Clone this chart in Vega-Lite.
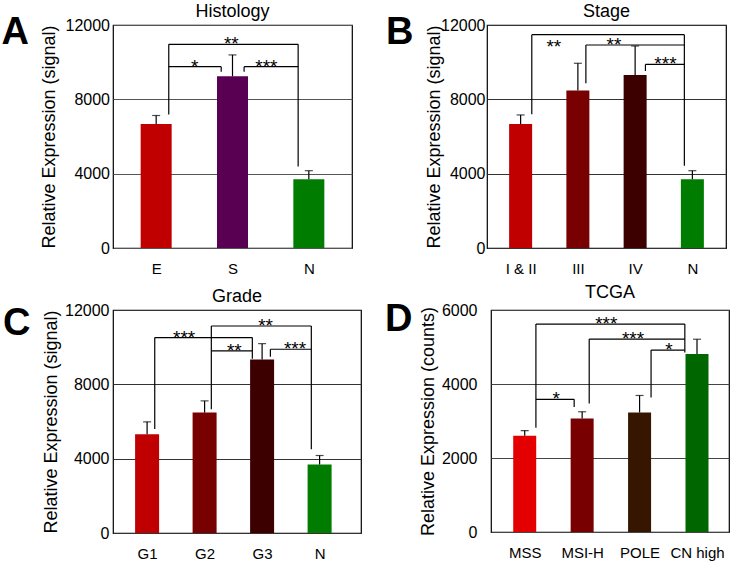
{
  "$schema": "https://vega.github.io/schema/vega-lite/v6.json",
  "padding": {"left": 1, "top": 2, "right": 0, "bottom": 0},
  "background": "white",
  "resolve": {"scale": {"color": "independent"}},
  "config": {
    "font": "Liberation Sans",
    "view": {"stroke": "black", "strokeWidth": 1.2},
    "axis": {"labelFontSize": 16, "titleFontSize": 18, "titleFontWeight": "normal", "labelColor": "black", "titleColor": "black", "labelFont": "Liberation Sans", "titleFont": "Liberation Sans"},
    "axisX": {"labelFontSize": 15},
    "scale": {"zero": false, "nice": false},
    "title": {"fontSize": 18, "fontWeight": "normal", "font": "Liberation Sans", "color": "black"}
  },
  "datasets": {
    "A_bars": [
      {"pos": 1, "cat": "E", "value": 6670, "err": 7130},
      {"pos": 2, "cat": "S", "value": 9240, "err": 10390},
      {"pos": 3, "cat": "N", "value": 3700, "err": 4160}
    ],
    "A_br": [
      {"x": 1.165, "y": 7190, "x2": 1.165, "y2": 10960},
      {"x": 1.165, "y": 10960, "x2": 2.86, "y2": 10960},
      {"x": 2.86, "y": 10960, "x2": 2.86, "y2": 4380},
      {"x": 1.165, "y": 9760, "x2": 1.852, "y2": 9760},
      {"x": 1.852, "y": 9760, "x2": 1.852, "y2": 9490},
      {"x": 2.152, "y": 9490, "x2": 2.152, "y2": 9760},
      {"x": 2.152, "y": 9760, "x2": 2.86, "y2": 9760}
    ],
    "A_lab": [
      {"x": 1.985, "y": 10960, "label": "**"},
      {"x": 1.506, "y": 9760, "label": "*"},
      {"x": 2.444, "y": 9760, "label": "***"}
    ],
    "B_bars": [
      {"pos": 1, "cat": "I & II", "value": 6670, "err": 7160},
      {"pos": 2, "cat": "III", "value": 8480, "err": 9940},
      {"pos": 3, "cat": "IV", "value": 9310, "err": 10870},
      {"pos": 4, "cat": "N", "value": 3700, "err": 4160}
    ],
    "B_br": [
      {"x": 1.195, "y": 7200, "x2": 1.195, "y2": 11480},
      {"x": 1.195, "y": 11480, "x2": 3.86, "y2": 11480},
      {"x": 3.86, "y": 11480, "x2": 3.86, "y2": 4430},
      {"x": 2.14, "y": 8860, "x2": 2.14, "y2": 10924},
      {"x": 2.14, "y": 10924, "x2": 3.86, "y2": 10924},
      {"x": 3.18, "y": 9525, "x2": 3.18, "y2": 9883},
      {"x": 3.18, "y": 9883, "x2": 3.86, "y2": 9883}
    ],
    "B_lab": [
      {"x": 1.58, "y": 10834, "label": "**"},
      {"x": 2.63, "y": 10924, "label": "**"},
      {"x": 3.53, "y": 9883, "label": "***"}
    ],
    "C_bars": [
      {"pos": 1, "cat": "G1", "value": 5320, "err": 5980},
      {"pos": 2, "cat": "G2", "value": 6480, "err": 7110},
      {"pos": 3, "cat": "G3", "value": 9330, "err": 10190},
      {"pos": 4, "cat": "N", "value": 3690, "err": 4170}
    ],
    "C_br": [
      {"x": 1.133, "y": 5590, "x2": 1.133, "y2": 10514},
      {"x": 1.133, "y": 10514, "x2": 2.83, "y2": 10514},
      {"x": 2.83, "y": 10514, "x2": 2.83, "y2": 9370},
      {"x": 2.117, "y": 6660, "x2": 2.117, "y2": 11140},
      {"x": 2.117, "y": 9797, "x2": 2.83, "y2": 9797},
      {"x": 2.117, "y": 11140, "x2": 3.856, "y2": 11140},
      {"x": 3.856, "y": 11140, "x2": 3.856, "y2": 4513},
      {"x": 3.144, "y": 9490, "x2": 3.144, "y2": 9887},
      {"x": 3.144, "y": 9887, "x2": 3.856, "y2": 9887}
    ],
    "C_lab": [
      {"x": 1.644, "y": 10514, "label": "***"},
      {"x": 2.517, "y": 9797, "label": "**"},
      {"x": 3.06, "y": 11140, "label": "**"},
      {"x": 3.572, "y": 9887, "label": "***"}
    ],
    "D_bars": [
      {"pos": 1, "cat": "MSS", "value": 2600, "err": 2740},
      {"pos": 2, "cat": "MSI-H", "value": 3070, "err": 3250},
      {"pos": 3, "cat": "POLE", "value": 3230, "err": 3690},
      {"pos": 4, "cat": "CN high", "value": 4810, "err": 5210}
    ],
    "D_br": [
      {"x": 1.195, "y": 2820, "x2": 1.195, "y2": 5620},
      {"x": 1.195, "y": 5620, "x2": 3.788, "y2": 5620},
      {"x": 3.788, "y": 5620, "x2": 3.788, "y2": 4852},
      {"x": 2.123, "y": 3470, "x2": 2.123, "y2": 5214},
      {"x": 2.123, "y": 5214, "x2": 3.788, "y2": 5214},
      {"x": 3.2, "y": 3633, "x2": 3.2, "y2": 4916},
      {"x": 3.2, "y": 4916, "x2": 3.788, "y2": 4916},
      {"x": 1.195, "y": 3587, "x2": 1.861, "y2": 3587},
      {"x": 1.861, "y": 3587, "x2": 1.861, "y2": 3380}
    ],
    "D_lab": [
      {"x": 2.42, "y": 5620, "label": "***"},
      {"x": 2.886, "y": 5214, "label": "***"},
      {"x": 3.51, "y": 4916, "label": "*"},
      {"x": 1.547, "y": 3587, "label": "*"}
    ]
  },
  "vconcat": [
    {
      "resolve": {"scale": {"color": "independent"}},
      "hconcat": [
        {
          "title": {"text": "A", "orient": "left", "anchor": "end", "angle": 0, "align": "right", "baseline": "top", "fontSize": 38, "fontWeight": "bold", "offset": -17, "dy": 12},
          "vconcat": [
            {
              "width": 239, "height": 223,
              "title": {"text": "Histology", "offset": -4},
              "layer": [
                {
                  "data": {"name": "A_bars"},
                  "mark": {"type": "bar", "size": 31, "orient": "vertical"},
                  "encoding": {
                    "x": {"field": "pos", "type": "quantitative", "scale": {"domain": [0.5, 3.5]}, "axis": {"values": [1, 2, 3], "labelExpr": "['', 'E', 'S', 'N'][datum.value]", "ticks": false, "domain": false, "grid": false, "labelPadding": 13, "labelFlush": false, "labelOverlap": false, "title": null}},
                    "y": {"field": "value", "type": "quantitative", "scale": {"domain": [0, 12000]}, "axis": {"values": [0, 4000, 8000, 12000], "format": "d", "title": "Relative Expression (signal)", "ticks": false, "domain": false, "labelPadding": 3.5, "titlePadding": 7, "grid": true, "gridColor": "#555", "gridWidth": 1}},
                    "color": {"field": "cat", "type": "nominal", "scale": {"domain": ["E", "S", "N"], "range": ["#c00000", "#5a0052", "#007d00"]}, "legend": null}
                  }
                },
                {
                  "data": {"name": "A_bars"},
                  "mark": {"type": "rule", "color": "black", "strokeWidth": 1.2},
                  "encoding": {
                    "x": {"field": "pos", "type": "quantitative", "scale": {"domain": [0.5, 3.5]}},
                    "y": {"field": "value", "type": "quantitative", "scale": {"domain": [0, 12000]}},
                    "y2": {"field": "err"}
                  }
                },
                {
                  "data": {"name": "A_bars"},
                  "mark": {"type": "tick", "orient": "horizontal", "size": 8, "thickness": 1.2, "color": "black"},
                  "encoding": {
                    "x": {"field": "pos", "type": "quantitative", "scale": {"domain": [0.5, 3.5]}},
                    "y": {"field": "err", "type": "quantitative", "scale": {"domain": [0, 12000]}}
                  }
                },
                {
                  "data": {"name": "A_br"},
                  "mark": {"type": "rule", "color": "black", "strokeWidth": 1.2},
                  "encoding": {
                    "x": {"field": "x", "type": "quantitative", "scale": {"domain": [0.5, 3.5]}},
                    "x2": {"field": "x2"},
                    "y": {"field": "y", "type": "quantitative", "scale": {"domain": [0, 12000]}},
                    "y2": {"field": "y2"}
                  }
                },
                {
                  "data": {"name": "A_lab"},
                  "mark": {"type": "text", "fontSize": 19, "baseline": "alphabetic", "dy": 6, "color": "black"},
                  "encoding": {
                    "x": {"field": "x", "type": "quantitative", "scale": {"domain": [0.5, 3.5]}},
                    "y": {"field": "y", "type": "quantitative", "scale": {"domain": [0, 12000]}},
                    "text": {"field": "label"}
                  }
                }
              ]
            }
          ]
        },
        {
          "title": {"text": "B", "orient": "left", "anchor": "end", "angle": 0, "align": "right", "baseline": "top", "fontSize": 38, "fontWeight": "bold", "offset": -16, "dy": 12},
          "vconcat": [
            {
              "width": 239, "height": 223,
              "title": {"text": "Stage", "offset": -4},
              "layer": [
                {
                  "data": {"name": "B_bars"},
                  "mark": {"type": "bar", "size": 23, "orient": "vertical"},
                  "encoding": {
                    "x": {"field": "pos", "type": "quantitative", "scale": {"domain": [0.5, 4.5]}, "axis": {"values": [1, 2, 3, 4], "labelExpr": "['', 'I & II', 'III', 'IV', 'N'][datum.value]", "ticks": false, "domain": false, "grid": false, "labelPadding": 13, "labelFlush": false, "labelOverlap": false, "title": null}},
                    "y": {"field": "value", "type": "quantitative", "scale": {"domain": [0, 12000]}, "axis": {"values": [0, 4000, 8000, 12000], "format": "d", "title": "Relative Expression (signal)", "ticks": false, "domain": false, "labelPadding": 2, "titlePadding": -3, "grid": true, "gridColor": "#333", "gridWidth": 1}},
                    "color": {"field": "cat", "type": "nominal", "scale": {"domain": ["I & II", "III", "IV", "N"], "range": ["#c00000", "#780000", "#3c0000", "#007d00"]}, "legend": null}
                  }
                },
                {
                  "data": {"name": "B_bars"},
                  "mark": {"type": "rule", "color": "black", "strokeWidth": 1.2},
                  "encoding": {
                    "x": {"field": "pos", "type": "quantitative", "scale": {"domain": [0.5, 4.5]}},
                    "y": {"field": "value", "type": "quantitative", "scale": {"domain": [0, 12000]}},
                    "y2": {"field": "err"}
                  }
                },
                {
                  "data": {"name": "B_bars"},
                  "mark": {"type": "tick", "orient": "horizontal", "size": 8, "thickness": 1.2, "color": "black"},
                  "encoding": {
                    "x": {"field": "pos", "type": "quantitative", "scale": {"domain": [0.5, 4.5]}},
                    "y": {"field": "err", "type": "quantitative", "scale": {"domain": [0, 12000]}}
                  }
                },
                {
                  "data": {"name": "B_br"},
                  "mark": {"type": "rule", "color": "black", "strokeWidth": 1.2},
                  "encoding": {
                    "x": {"field": "x", "type": "quantitative", "scale": {"domain": [0.5, 4.5]}},
                    "x2": {"field": "x2"},
                    "y": {"field": "y", "type": "quantitative", "scale": {"domain": [0, 12000]}},
                    "y2": {"field": "y2"}
                  }
                },
                {
                  "data": {"name": "B_lab"},
                  "mark": {"type": "text", "fontSize": 19, "baseline": "alphabetic", "dy": 6, "color": "black"},
                  "encoding": {
                    "x": {"field": "x", "type": "quantitative", "scale": {"domain": [0.5, 4.5]}},
                    "y": {"field": "y", "type": "quantitative", "scale": {"domain": [0, 12000]}},
                    "text": {"field": "label"}
                  }
                }
              ]
            }
          ]
        }
      ],
      "spacing": 33
    },
    {
      "resolve": {"scale": {"color": "independent"}},
      "hconcat": [
        {
          "title": {"text": "C", "orient": "left", "anchor": "end", "angle": 0, "align": "right", "baseline": "top", "fontSize": 38, "fontWeight": "bold", "offset": -16, "dy": 18},
          "vconcat": [
            {
              "width": 248, "height": 223,
              "title": {"text": "Grade", "offset": -4},
              "layer": [
                {
                  "data": {"name": "C_bars"},
                  "mark": {"type": "bar", "size": 24, "orient": "vertical"},
                  "encoding": {
                    "x": {"field": "pos", "type": "quantitative", "scale": {"domain": [0.494, 4.633]}, "axis": {"values": [1, 2, 3, 4], "labelExpr": "['', 'G1', 'G2', 'G3', 'N'][datum.value]", "ticks": false, "domain": false, "grid": false, "labelPadding": 13, "labelFlush": false, "labelOverlap": false, "title": null}},
                    "y": {"field": "value", "type": "quantitative", "scale": {"domain": [0, 12000]}, "axis": {"values": [0, 4000, 8000, 12000], "format": "d", "title": "Relative Expression (signal)", "ticks": false, "domain": false, "labelPadding": 4, "titlePadding": 4, "grid": true, "gridColor": "#333", "gridWidth": 1}},
                    "color": {"field": "cat", "type": "nominal", "scale": {"domain": ["G1", "G2", "G3", "N"], "range": ["#c00000", "#780000", "#3c0000", "#007d00"]}, "legend": null}
                  }
                },
                {
                  "data": {"name": "C_bars"},
                  "mark": {"type": "rule", "color": "black", "strokeWidth": 1.2},
                  "encoding": {
                    "x": {"field": "pos", "type": "quantitative", "scale": {"domain": [0.494, 4.633]}},
                    "y": {"field": "value", "type": "quantitative", "scale": {"domain": [0, 12000]}},
                    "y2": {"field": "err"}
                  }
                },
                {
                  "data": {"name": "C_bars"},
                  "mark": {"type": "tick", "orient": "horizontal", "size": 8, "thickness": 1.2, "color": "black"},
                  "encoding": {
                    "x": {"field": "pos", "type": "quantitative", "scale": {"domain": [0.494, 4.633]}},
                    "y": {"field": "err", "type": "quantitative", "scale": {"domain": [0, 12000]}}
                  }
                },
                {
                  "data": {"name": "C_br"},
                  "mark": {"type": "rule", "color": "black", "strokeWidth": 1.2},
                  "encoding": {
                    "x": {"field": "x", "type": "quantitative", "scale": {"domain": [0.494, 4.633]}},
                    "x2": {"field": "x2"},
                    "y": {"field": "y", "type": "quantitative", "scale": {"domain": [0, 12000]}},
                    "y2": {"field": "y2"}
                  }
                },
                {
                  "data": {"name": "C_lab"},
                  "mark": {"type": "text", "fontSize": 19, "baseline": "alphabetic", "dy": 6, "color": "black"},
                  "encoding": {
                    "x": {"field": "x", "type": "quantitative", "scale": {"domain": [0.494, 4.633]}},
                    "y": {"field": "y", "type": "quantitative", "scale": {"domain": [0, 12000]}},
                    "text": {"field": "label"}
                  }
                }
              ]
            }
          ]
        },
        {
          "title": {"text": "D", "orient": "left", "anchor": "end", "angle": 0, "align": "right", "baseline": "top", "fontSize": 38, "fontWeight": "bold", "offset": -21, "dy": 18},
          "vconcat": [
            {
              "width": 238, "height": 222,
              "title": {"text": "TCGA", "offset": 0},
              "layer": [
                {
                  "data": {"name": "D_bars"},
                  "mark": {"type": "bar", "size": 23, "orient": "vertical"},
                  "encoding": {
                    "x": {"field": "pos", "type": "quantitative", "scale": {"domain": [0.5, 4.47]}, "axis": {"values": [1, 2, 3, 4], "labelExpr": "['', 'MSS', 'MSI-H', 'POLE', 'CN high'][datum.value]", "ticks": false, "domain": false, "grid": false, "labelPadding": 13, "labelFlush": false, "labelOverlap": false, "title": null}},
                    "y": {"field": "value", "type": "quantitative", "scale": {"domain": [0, 6000]}, "axis": {"values": [0, 2000, 4000, 6000], "format": "d", "title": "Relative Expression (counts)", "ticks": false, "domain": false, "labelPadding": 14, "titlePadding": 4, "grid": true, "gridColor": "#444", "gridWidth": 1}},
                    "color": {"field": "cat", "type": "nominal", "scale": {"domain": ["MSS", "MSI-H", "POLE", "CN high"], "range": ["#e40000", "#780000", "#361600", "#006600"]}, "legend": null}
                  }
                },
                {
                  "data": {"name": "D_bars"},
                  "mark": {"type": "rule", "color": "black", "strokeWidth": 1.2},
                  "encoding": {
                    "x": {"field": "pos", "type": "quantitative", "scale": {"domain": [0.5, 4.47]}},
                    "y": {"field": "value", "type": "quantitative", "scale": {"domain": [0, 6000]}},
                    "y2": {"field": "err"}
                  }
                },
                {
                  "data": {"name": "D_bars"},
                  "mark": {"type": "tick", "orient": "horizontal", "size": 8, "thickness": 1.2, "color": "black"},
                  "encoding": {
                    "x": {"field": "pos", "type": "quantitative", "scale": {"domain": [0.5, 4.47]}},
                    "y": {"field": "err", "type": "quantitative", "scale": {"domain": [0, 6000]}}
                  }
                },
                {
                  "data": {"name": "D_br"},
                  "mark": {"type": "rule", "color": "black", "strokeWidth": 1.2},
                  "encoding": {
                    "x": {"field": "x", "type": "quantitative", "scale": {"domain": [0.5, 4.47]}},
                    "x2": {"field": "x2"},
                    "y": {"field": "y", "type": "quantitative", "scale": {"domain": [0, 6000]}},
                    "y2": {"field": "y2"}
                  }
                },
                {
                  "data": {"name": "D_lab"},
                  "mark": {"type": "text", "fontSize": 19, "baseline": "alphabetic", "dy": 6, "color": "black"},
                  "encoding": {
                    "x": {"field": "x", "type": "quantitative", "scale": {"domain": [0.5, 4.47]}},
                    "y": {"field": "y", "type": "quantitative", "scale": {"domain": [0, 6000]}},
                    "text": {"field": "label"}
                  }
                }
              ]
            }
          ]
        }
      ],
      "spacing": 22
    }
  ],
  "spacing": 6
}
